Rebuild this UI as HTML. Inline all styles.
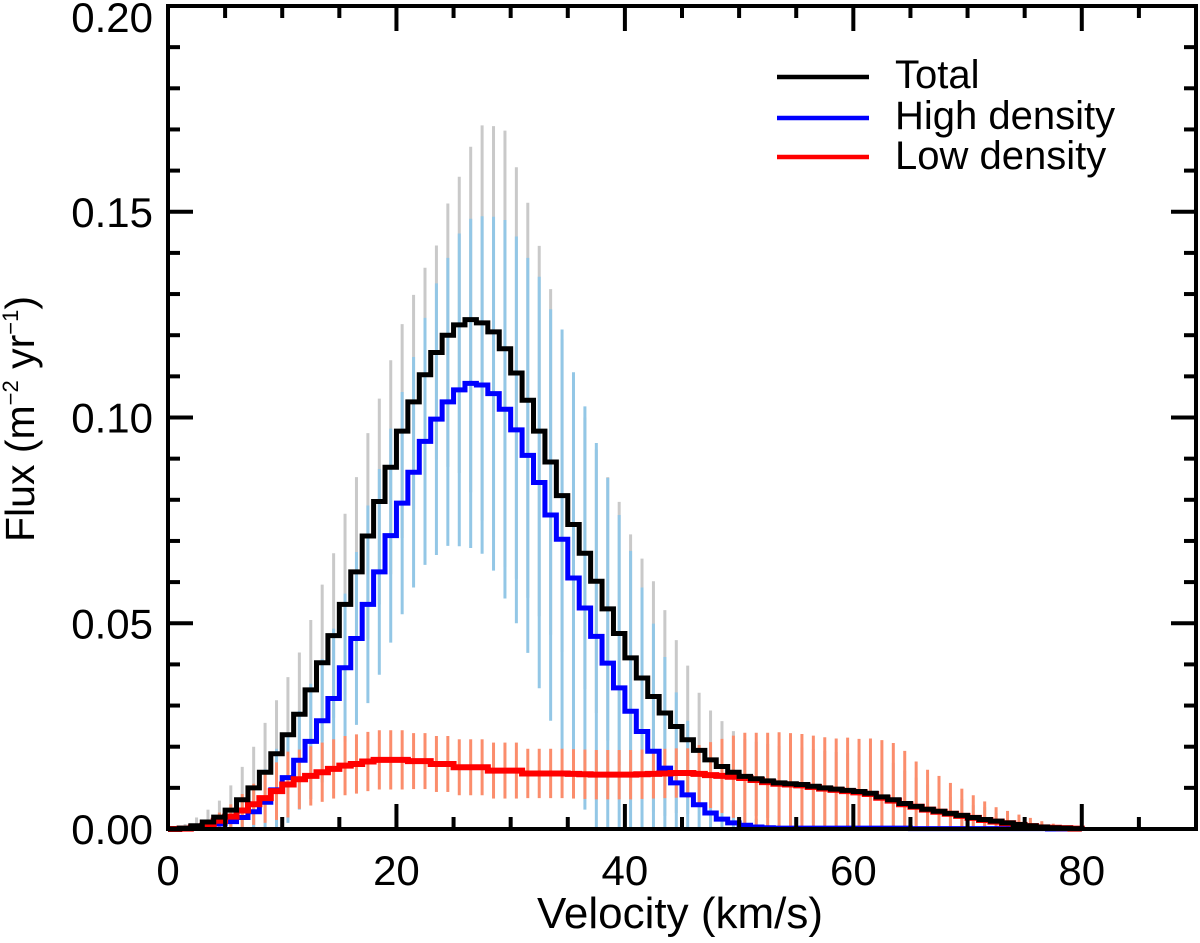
<!DOCTYPE html>
<html><head><meta charset="utf-8"><style>
html,body{margin:0;padding:0;background:#fff;}
svg{display:block;font-family:"Liberation Sans",Arial,sans-serif;}
</style></head><body>
<svg id="chart" width="1200" height="943" viewBox="0 0 1200 943">
<g id="errTotal"></g>
<g id="errHigh"></g>
<g id="errLow"></g>
<g id="lines"></g>
<g id="axes"></g>
<g>
 <line x1="777" y1="77" x2="869" y2="77" stroke="#000" stroke-width="4.5"/>
 <text x="895" y="88" font-size="40">Total</text>
 <line x1="777" y1="118" x2="869" y2="118" stroke="#0000ff" stroke-width="4.5"/>
 <text x="895" y="129" font-size="40">High density</text>
 <line x1="777" y1="157" x2="869" y2="157" stroke="#ff0000" stroke-width="4.5"/>
 <text x="895" y="169" font-size="40">Low density</text>
</g>
<text x="680" y="928" font-size="44" text-anchor="middle">Velocity (km/s)</text>
<text transform="translate(34,419) rotate(-90)" font-size="41" text-anchor="middle">Flux (m<tspan font-size="22" dy="-16">−2</tspan><tspan dy="16"> yr</tspan><tspan font-size="22" dy="-16">−1</tspan><tspan dy="16">)</tspan></text>
</svg>
<script>
// bins of 1 km/s starting at 0
const totalVals=[0,0.0002,0.0008,0.0017,0.0029,0.0046,0.0071,0.010,0.0138,0.0183,0.0229,0.0279,0.0338,0.0404,0.047,0.0546,0.0625,0.0712,0.0796,0.0879,0.0967,0.1038,0.1104,0.1158,0.12,0.1225,0.1238,0.123,0.1208,0.1167,0.1108,0.1042,0.0967,0.0892,0.081,0.074,0.067,0.0602,0.0535,0.0475,0.0416,0.0367,0.0322,0.0282,0.0249,0.0217,0.0191,0.0168,0.0152,0.0138,0.0128,0.0122,0.0117,0.0112,0.011,0.0108,0.0104,0.01,0.0097,0.0094,0.0091,0.0087,0.0078,0.0071,0.0062,0.0055,0.0048,0.0043,0.0038,0.0033,0.0028,0.0023,0.0019,0.0015,0.0011,0.0008,0.0005,0.0003,0.0002,0.0001];
const highVals=[0,0,0.0003,0.0008,0.0012,0.0018,0.0028,0.0042,0.0065,0.0095,0.0125,0.0167,0.0213,0.0263,0.0317,0.0392,0.0463,0.0546,0.0625,0.0713,0.0792,0.0867,0.0942,0.0996,0.1038,0.1067,0.1083,0.1079,0.1058,0.102,0.097,0.0908,0.0842,0.0763,0.0704,0.061,0.0537,0.0468,0.0403,0.0343,0.0286,0.0237,0.0189,0.0148,0.0112,0.0083,0.0059,0.0039,0.0024,0.0015,0.0009,0.0005,0.0003,0.0002,0.0002,0.0002,0.0002,0.0002,0.0002,0.0002,0.0002,0.0002,0.0002,0.0002,0.0002,0.0001,0.0001,0.0001,0.0001,0.0001,0.0001,0.0001,0.0001,0.0001,0.0001,0.0001,0.0001,0,0,0];
const lowVals=[0,0.0001,0.0004,0.0008,0.002,0.003,0.0045,0.006,0.0075,0.0092,0.0108,0.0121,0.0129,0.0138,0.0146,0.0154,0.0158,0.0164,0.0168,0.0168,0.0168,0.0165,0.0165,0.0158,0.0158,0.015,0.015,0.015,0.0142,0.0142,0.0142,0.0135,0.0135,0.0135,0.0135,0.0134,0.0133,0.0132,0.0132,0.0132,0.0132,0.0133,0.0134,0.0135,0.0136,0.0136,0.0134,0.0131,0.0129,0.0127,0.0124,0.0119,0.0114,0.011,0.0108,0.0106,0.0102,0.0098,0.0095,0.0092,0.0089,0.0085,0.0076,0.0069,0.006,0.0054,0.0047,0.0042,0.0037,0.0032,0.0027,0.0022,0.0018,0.0014,0.001,0.0007,0.0004,0.0003,0.0002,0.0001];
const totalErr=[0,0.001,0.002,0.003,0.004,0.006,0.008,0.01,0.012,0.013,0.014,0.015,0.017,0.019,0.02,0.022,0.023,0.025,0.025,0.026,0.026,0.026,0.026,0.026,0.032,0.036,0.042,0.048,0.05,0.053,0.05,0.048,0.045,0.042,0.038,0.035,0.033,0.032,0.032,0.032,0.03,0.029,0.028,0.025,0.021,0.018,0.014,0.012,0.011,0.01,0.009,0.009,0.009,0.009,0.009,0.009,0.009,0.009,0.009,0.009,0.009,0.009,0.009,0.009,0.008,0.007,0.006,0.005,0.004,0.004,0.003,0.003,0.002,0.002,0.001,0.001,0.001,0,0,0];
const highErr=[0,0,0.0005,0.001,0.002,0.003,0.005,0.006,0.008,0.01,0.011,0.012,0.014,0.015,0.017,0.018,0.021,0.024,0.025,0.026,0.027,0.028,0.03,0.033,0.035,0.038,0.04,0.041,0.043,0.046,0.047,0.048,0.05,0.05,0.051,0.05,0.049,0.047,0.045,0.042,0.039,0.035,0.031,0.027,0.022,0.018,0.014,0.01,0.007,0.005,0.003,0.002,0.001,0.001,0,0,0,0,0,0,0,0,0,0,0,0,0,0,0,0,0,0,0,0,0,0,0,0,0,0];
const lowErr=[0,0,0.0005,0.001,0.002,0.003,0.004,0.005,0.006,0.007,0.008,0.0072,0.0072,0.0072,0.0072,0.0072,0.0072,0.0072,0.0072,0.0072,0.0072,0.0068,0.0068,0.0068,0.0068,0.0068,0.0068,0.0068,0.0068,0.0068,0.0068,0.006,0.006,0.006,0.006,0.006,0.006,0.006,0.006,0.006,0.006,0.006,0.006,0.006,0.006,0.006,0.007,0.008,0.009,0.01,0.011,0.0115,0.012,0.0125,0.0125,0.0125,0.0125,0.0125,0.0125,0.013,0.013,0.0135,0.014,0.014,0.013,0.011,0.0097,0.0087,0.0075,0.0066,0.0055,0.0045,0.0035,0.003,0.0025,0.002,0.0015,0.001,0.0006,0];
const xTicks=[0,20,40,60,80];
const yTicks=[0,0.05,0.10,0.15,0.20];
const yTickLabels=["0.00","0.05","0.10","0.15","0.20"];

const NS="http://www.w3.org/2000/svg";
const L=168,R=1196,T=6,B=829,XMAX=90,YMAX=0.20;
function xs(v){return L+(R-L)*v/XMAX;}
function ys(v){return B-(B-T)*Math.min(v,YMAX)/YMAX;}
function mk(tag,attrs,parent){const e=document.createElementNS(NS,tag);for(const k in attrs)e.setAttribute(k,attrs[k]);parent.appendChild(e);return e;}

function errBars(vals,errs,color,gid,name){
  const g=document.getElementById(gid);
  vals.forEach((v,i)=>{
    if(!errs[i])return;
    const c=xs(i+0.5);
    const lo=Math.max(0,v-errs[i]),hi=v+errs[i];
    const ln=mk('line',{x1:c,x2:c,y1:ys(hi),y2:ys(lo),stroke:color,'stroke-width':3},g);
    
    
  });
}
errBars(totalVals,totalErr,'#c9c9c9','errTotal','total-error-bar');
errBars(highVals,highErr,'#93c7e6','errHigh','high-density-error-bar');
errBars(lowVals,lowErr,'#fb8d6c','errLow','low-density-error-bar');

function stepPath(vals){
  let d='M'+xs(0)+','+ys(0);
  vals.forEach((v,i)=>{d+=' L'+xs(i)+','+ys(v)+' L'+xs(i+1)+','+ys(v);});
  d+=' L'+xs(vals.length)+','+ys(0);
  return d;
}
const lg=document.getElementById('lines');
[[highVals,'#0000ff',5,'high-density-line'],[lowVals,'#ff0000',6,'low-density-line'],[totalVals,'#000000',5,'total-line']].forEach(s=>{
  const p=mk('path',{d:stepPath(s[0]),fill:'none',stroke:s[1],'stroke-width':s[2],'stroke-linejoin':'miter'},lg);
  
  
});

const ax=document.getElementById('axes');
const frame=mk('rect',{x:L,y:T,width:R-L,height:B-T,fill:'none',stroke:'#000','stroke-width':4},ax);


for(let v=0;v<=XMAX;v+=5){
  const major=v%20===0, len=major?25:12, x=xs(v);
  mk('line',{x1:x,x2:x,y1:B,y2:B-len,stroke:'#000','stroke-width':4},ax);
  mk('line',{x1:x,x2:x,y1:T,y2:T+len,stroke:'#000','stroke-width':4},ax);
}
for(let k=0;k<=20;k++){
  const v=k*0.01, major=k%5===0, len=major?25:12, y=ys(v);
  mk('line',{x1:L,x2:L+len,y1:y,y2:y,stroke:'#000','stroke-width':4},ax);
  mk('line',{x1:R,x2:R-len,y1:y,y2:y,stroke:'#000','stroke-width':4},ax);
}
xTicks.forEach(v=>{
  const t=mk('text',{x:xs(v),y:885,'font-size':42,'text-anchor':'middle'},ax);
  t.textContent=String(v);
  
  
});
yTicks.forEach((v,i)=>{
  const t=mk('text',{x:153,y:Math.max(ys(v)+15,32),'font-size':42,'text-anchor':'end'},ax);
  t.textContent=yTickLabels[i];
  
  
});
</script>
</body></html>
